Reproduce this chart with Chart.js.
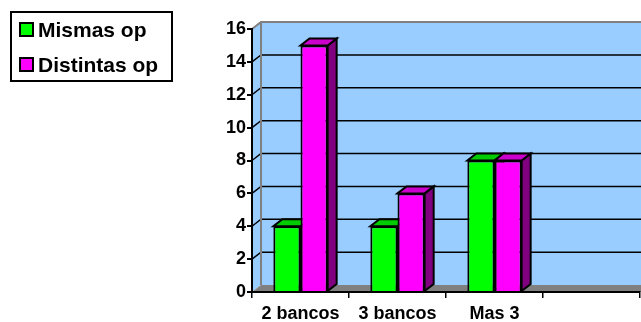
<!DOCTYPE html>
<html>
<head>
<meta charset="utf-8">
<script src="https://cdn.jsdelivr.net/npm/chart.js@4.4.1/dist/chart.umd.min.js"></script>
<style>
  body { margin: 0; background: #fff; }
</style>
</head>
<body>
<canvas id="bancosChart" width="641" height="322"></canvas>
<script>
// operaciones por numero de bancos
const categories = ['2 bancos', '3 bancos', 'Mas 3', ''];
const mismasOp = [4, 4, 8, null];
const distintasOp = [15, 6, 8, null];
const yMax = 16;
const yStep = 2;

// fake 3d depth of the walls and bars
const DX = 9;
const DY = 7;
const FONT = "'Liberation Sans', Arial, sans-serif";

function poly(ctx, pts, fill, stroke, lw) {
    ctx.beginPath();
    ctx.moveTo(pts[0][0], pts[0][1]);
    for (let i = 1; i < pts.length; i++) ctx.lineTo(pts[i][0], pts[i][1]);
    ctx.closePath();
    if (fill) { ctx.fillStyle = fill; ctx.fill(); }
    if (stroke) { ctx.strokeStyle = stroke; ctx.lineWidth = lw; ctx.lineJoin = 'miter'; ctx.stroke(); }
}

const box3d = {
    id: 'box3d',
    beforeDraw(chart) {
        const { ctx, chartArea: a, scales: { y } } = chart;
        const W = chart.width;
        ctx.save();
        // back wall, side wall and floor
        ctx.fillStyle = '#99ccff';
        ctx.fillRect(a.left + DX, a.top - DY, W - a.left - DX, a.bottom - a.top);
        poly(ctx, [[a.left, a.bottom], [a.left, a.top], [a.left + DX, a.top - DY], [a.left + DX, a.bottom - DY]], '#99ccff');
        poly(ctx, [[a.left, a.bottom], [a.left + DX, a.bottom - DY], [W + 2, a.bottom - DY], [W + 2, a.bottom]], '#808080');

        // grid lines run from the axis back onto the wall
        ctx.lineWidth = 1.5;
        ctx.strokeStyle = '#000';
        y.ticks.forEach(t => {
            if (t.value <= 0 || t.value >= yMax) return;
            const py = y.getPixelForValue(t.value);
            ctx.beginPath();
            ctx.moveTo(a.left, py);
            ctx.lineTo(a.left + DX, py - DY);
            ctx.lineTo(W, py - DY);
            ctx.stroke();
        });

        // wall edges
        ctx.strokeStyle = '#808080';
        ctx.lineWidth = 2;
        ctx.beginPath();
        ctx.moveTo(a.left, a.top);
        ctx.lineTo(a.left + DX, a.top - DY);
        ctx.lineTo(W, a.top - DY);
        ctx.moveTo(a.left + DX, a.top - DY);
        ctx.lineTo(a.left + DX, a.bottom - DY);
        ctx.stroke();
        ctx.restore();
    },
    beforeDatasetsDraw(chart) {
        const ctx = chart.ctx;
        ctx.save();
        chart.data.datasets.forEach((ds, i) => {
            const meta = chart.getDatasetMeta(i);
            meta.data.forEach((bar, j) => {
                if (ds.data[j] == null) return;
                const p = bar.getProps(['x', 'y', 'base', 'width'], true);
                const l = p.x - p.width / 2, r = p.x + p.width / 2;
                poly(ctx, [[r, p.y], [r + DX, p.y - DY], [r + DX, p.base - DY], [r, p.base]], ds.sideColor, '#000', 2);
                poly(ctx, [[l, p.y], [l + DX, p.y - DY], [r + DX, p.y - DY], [r, p.y]], ds.topColor, '#000', 2);
            });
        });
        ctx.restore();
    },
    afterDraw(chart) {
        // boxed legend at top left
        const ctx = chart.ctx;
        ctx.save();
        ctx.strokeStyle = '#000';
        ctx.lineWidth = 2;
        ctx.strokeRect(11, 12, 161, 69);
        ctx.font = 'bold 21px ' + FONT;
        ctx.textBaseline = 'middle';
        chart.data.datasets.forEach((ds, i) => {
            const top = 23 + i * 35;
            ctx.fillStyle = ds.backgroundColor;
            ctx.fillRect(20, top, 13, 13);
            ctx.lineWidth = 2;
            ctx.strokeRect(20, top, 13, 13);
            ctx.fillStyle = '#000';
            ctx.fillText(ds.label, 38, top + 8);
        });
        ctx.restore();
    }
};

const ctx = document.getElementById('bancosChart').getContext('2d');
new Chart(ctx, {
    type: 'bar',
    data: {
        labels: categories,
        datasets: [{
            label: 'Mismas op',
            data: mismasOp,
            backgroundColor: '#00ff00',
            topColor: '#00cc00',
            sideColor: '#008000',
            borderColor: '#000',
            borderWidth: 2
        }, {
            label: 'Distintas op',
            data: distintasOp,
            backgroundColor: '#ff00ff',
            topColor: '#cc00cc',
            sideColor: '#800080',
            borderColor: '#000',
            borderWidth: 2
        }]
    },
    options: {
        responsive: false,
        animation: false,
        layout: { padding: { top: 29, right: 1, left: 0, bottom: 0 } },
        datasets: { bar: { categoryPercentage: 0.56, barPercentage: 1 } },
        plugins: {
            legend: { display: false },
            tooltip: { enabled: false }
        },
        scales: {
            x: {
                afterFit: s => { s.height = 30; },
                grid: { drawOnChartArea: false, tickLength: 6, color: '#000', lineWidth: 1.5 },
                border: { color: '#000', width: 2 },
                ticks: { color: '#000', padding: 5, font: { family: FONT, size: 18, weight: 'bold' } }
            },
            y: {
                min: 0,
                max: yMax,
                afterFit: s => { s.width = 252; },
                grid: { drawOnChartArea: false, tickLength: 5, color: '#000', lineWidth: 2 },
                border: { color: '#000', width: 2 },
                ticks: { stepSize: yStep, color: '#000', padding: 1, font: { family: FONT, size: 18, weight: 'bold' } }
            }
        }
    },
    plugins: [box3d]
});
</script>
</body>
</html>
